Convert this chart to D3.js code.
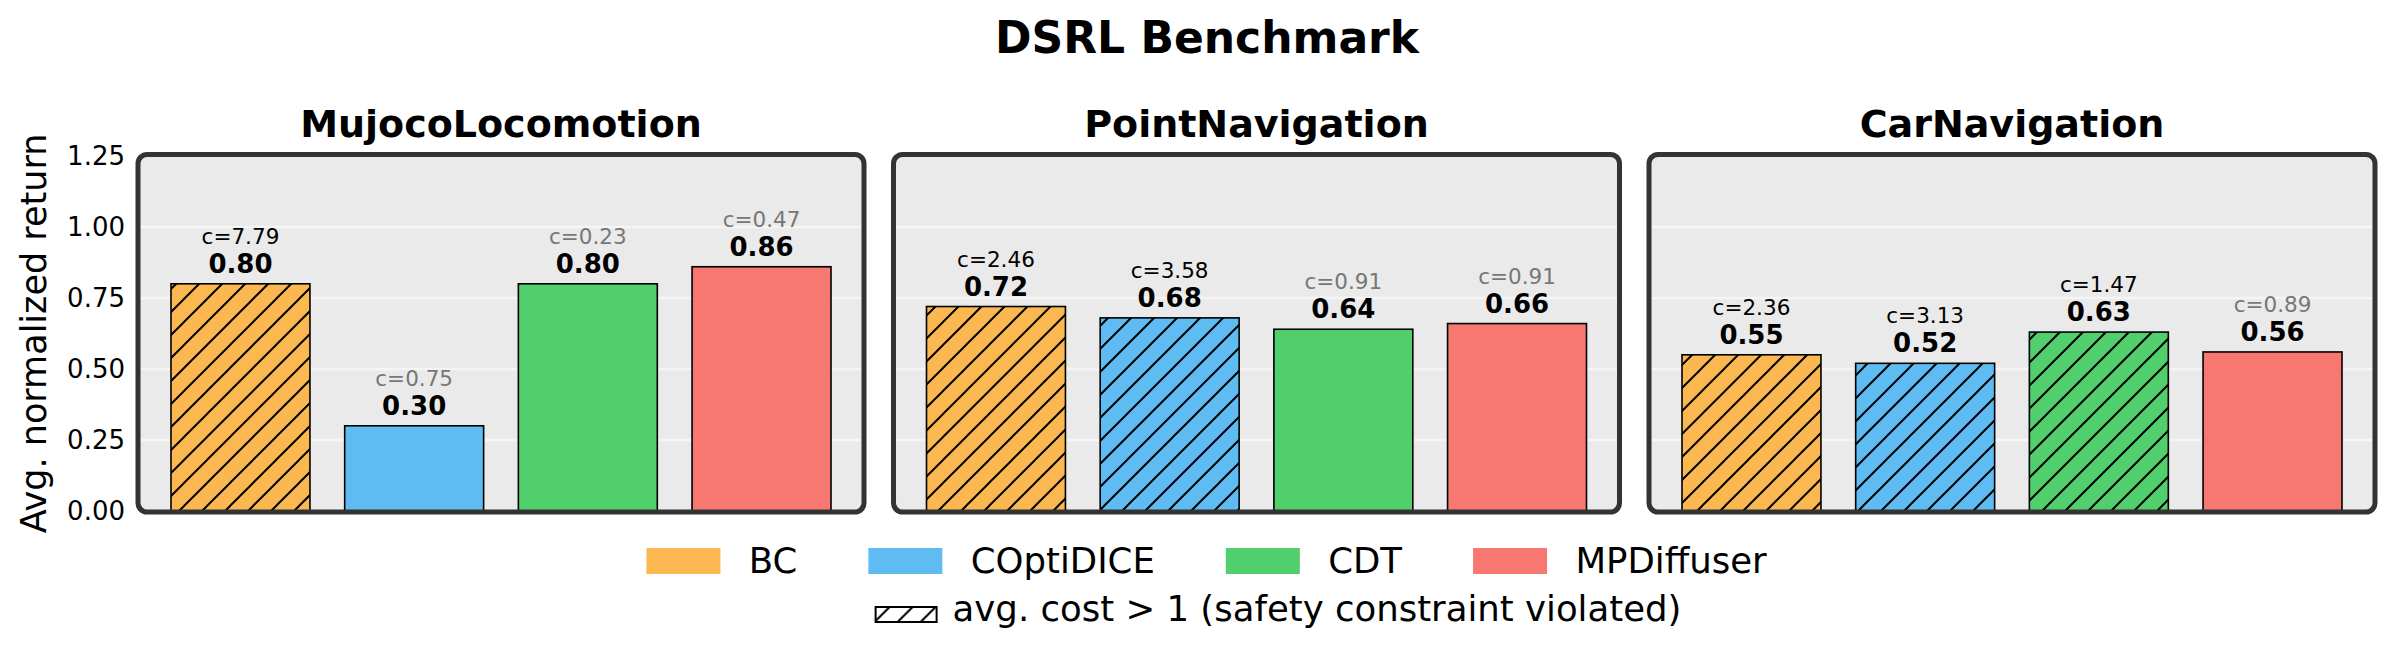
<!DOCTYPE html>
<html>
<head>
<meta charset="utf-8">
<script src="https://cdn.jsdelivr.net/npm/d3@7"></script>
<style>
  body { margin: 0; background: #fff; }
  text { font-family: "DejaVu Sans", sans-serif; }
</style>
</head>
<body>
<div id="chart"></div>
<script>
/* DSRL Benchmark - grouped panels of bars */

// data
const methods = ["BC", "COptiDICE", "CDT", "MPDiffuser"];
const tasks = ["MujocoLocomotion", "PointNavigation", "CarNavigation"];
const mujocoReturn = [0.80, 0.30, 0.80, 0.86];
const mujocoCost = [7.79, 0.75, 0.23, 0.47];
const pointReturn = [0.72, 0.68, 0.64, 0.66];
const pointCost = [2.46, 3.58, 0.91, 0.91];
const carReturn = [0.55, 0.52, 0.63, 0.56];
const carCost = [2.36, 3.13, 1.47, 0.89];
const yTicks = [0, 0.25, 0.5, 0.75, 1.0, 1.25];
const costLimit = 1;

const returnsByTask = [mujocoReturn, pointReturn, carReturn];
const costsByTask = [mujocoCost, pointCost, carCost];

const colors = ["#fbb851", "#5ebcf2", "#50cf6c", "#f67870"];

const width = 2397, height = 652,
    margin = ({ top: 156, bottom: 141, left: 138 }),
    panelW = 726, panelGap = 29.5;

const svg = d3.select("#chart")
    .append("svg")
    .attr("width", width)
    .attr("height", height)
    .attr("viewBox", [0, 0, width, height]);

// hatch pattern for constraint violations
const defs = svg.append("defs");
defs.append("pattern")
    .attr("id", "hatch")
    .attr("patternUnits", "userSpaceOnUse")
    .attr("width", 23).attr("height", 23)
  .append("path")
    .attr("d", "M0,23 L23,0 M-5.75,5.75 L5.75,-5.75 M17.25,28.75 L28.75,17.25")
    .attr("stroke", "#000")
    .attr("stroke-width", 2);

const y = d3.scaleLinear()
    .domain([0, 1.25])
    .range([height - margin.bottom - 0, margin.top]);

// suptitle
svg.append("text")
    .attr("x", 1207)
    .attr("y", 53)
    .attr("text-anchor", "middle")
    .attr("font-size", 44)
    .attr("font-weight", "bold")
    .text("DSRL Benchmark");

tasks.forEach((task, t) => {
    const left = margin.left + t * (panelW + panelGap);
    const vals = returnsByTask[t], costs = costsByTask[t];

    // matplotlib-like x limits: bars at 0..3, width 0.8, 5% margins
    const x = d3.scaleLinear()
        .domain([-0.59, methods.length - 1 + 0.59])
        .range([left, left + panelW]);
    const barW = x(0.8) - x(0);

    const g = svg.append("g");

    // panel background
    g.append("rect")
        .attr("x", left).attr("y", y(1.25) - 1.5)
        .attr("width", panelW).attr("height", y(0) - y(1.25) + 2.5)
        .attr("rx", 9)
        .attr("fill", "#eaeaea");

    // grid
    g.selectAll(".grid")
        .data(yTicks.filter(d => d > 0 && d < 1.25))
        .join("line")
        .attr("x1", left).attr("x2", left + panelW)
        .attr("y1", d => y(d)).attr("y2", d => y(d))
        .attr("stroke", "#f5f5f5")
        .attr("stroke-width", 2.5);

    const bars = g.selectAll(".bar")
        .data(vals.map((v, i) => ({ v, c: costs[i], i })))
        .join("g");

    bars.append("rect")
        .attr("x", d => x(d.i) - barW / 2)
        .attr("y", d => y(d.v))
        .attr("width", barW)
        .attr("height", d => y(0) - y(d.v))
        .attr("fill", d => colors[d.i]);

    bars.filter(d => d.c > costLimit).append("rect")
        .attr("x", d => x(d.i) - barW / 2)
        .attr("y", d => y(d.v))
        .attr("width", barW)
        .attr("height", d => y(0) - y(d.v))
        .attr("fill", "url(#hatch)");

    bars.append("rect")
        .attr("x", d => x(d.i) - barW / 2)
        .attr("y", d => y(d.v))
        .attr("width", barW)
        .attr("height", d => y(0) - y(d.v))
        .attr("fill", "none")
        .attr("stroke", "#000")
        .attr("stroke-width", 1.6);

    bars.append("text")
        .attr("x", d => x(d.i))
        .attr("y", d => y(d.v) - 11)
        .attr("text-anchor", "middle")
        .attr("font-size", 26)
        .attr("font-weight", "bold")
        .text(d => d.v.toFixed(2));

    bars.append("text")
        .attr("x", d => x(d.i))
        .attr("y", d => y(d.v) - 40)
        .attr("text-anchor", "middle")
        .attr("font-size", 21.5)
        .attr("fill", d => d.c > costLimit ? "#000" : "#777")
        .text(d => "c=" + d.c.toFixed(2));

    // rounded frame on top
    g.append("rect")
        .attr("x", left).attr("y", y(1.25) - 1.5)
        .attr("width", panelW).attr("height", y(0) - y(1.25) + 2.5)
        .attr("rx", 9)
        .attr("fill", "none")
        .attr("stroke", "#333")
        .attr("stroke-width", 5);

    // subplot title
    svg.append("text")
        .attr("x", left + panelW / 2)
        .attr("y", 137)
        .attr("text-anchor", "middle")
        .attr("font-size", 38)
        .attr("font-weight", "bold")
        .text(task);

    if (t === 0) {
        svg.append("g")
            .attr("transform", `translate(${left},0)`)
            .call(d3.axisLeft(y)
                .tickValues(yTicks)
                .tickSize(0)
                .tickPadding(13)
                .tickFormat(d3.format(".2f")))
            .call(a => a.select(".domain").remove())
            .selectAll("text")
            .attr("font-size", 26)
            .attr("font-family", "DejaVu Sans")
            .attr("fill", "#000");
    }
});

// y label
svg.append("text")
    .attr("transform", `translate(46,${(y(0) + y(1.25)) / 2}) rotate(-90)`)
    .attr("text-anchor", "middle")
    .attr("font-size", 35)
    .text("Avg. normalized return");

// legend row 1 : methods
const fs = 35.5;
const leg1 = svg.append("g");
let cx = 0;
methods.forEach((m, i) => {
    const item = leg1.append("g").attr("transform", `translate(${cx},0)`);
    item.append("rect")
        .attr("x", 0).attr("y", 548)
        .attr("width", 74).attr("height", 26)
        .attr("fill", colors[i]);
    const txt = item.append("text")
        .attr("x", 74 + 0.8 * fs)
        .attr("y", 573)
        .attr("font-size", fs)
        .text(m);
    cx += 74 + 0.8 * fs + txt.node().getComputedTextLength() + 2 * fs;
});
const leg1W = cx - 2 * fs;
leg1.attr("transform", `translate(${1206.5 - leg1W / 2},0)`);

// legend row 2 : hatch meaning
const leg2 = svg.append("g");
leg2.append("rect")
    .attr("x", 0).attr("y", 607)
    .attr("width", 61).attr("height", 15)
    .attr("fill", "#fff");
leg2.append("rect")
    .attr("x", 0).attr("y", 607)
    .attr("width", 61).attr("height", 15)
    .attr("fill", "url(#hatch)")
    .attr("stroke", "#000")
    .attr("stroke-width", 2);
const t2 = leg2.append("text")
    .attr("x", 77)
    .attr("y", 621)
    .attr("font-size", fs)
    .text("avg. cost > 1 (safety constraint violated)");
const leg2W = 77 + t2.node().getComputedTextLength();
leg2.attr("transform", `translate(${1278.5 - leg2W / 2},0)`);
</script>
</body>
</html>
